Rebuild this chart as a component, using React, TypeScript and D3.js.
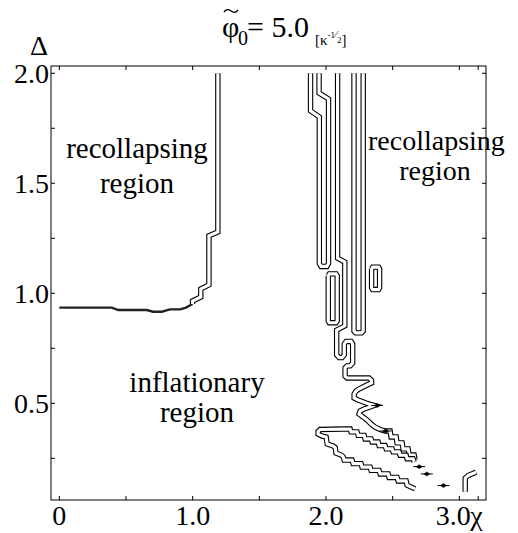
import React from "react";
import * as d3 from "d3";

type P = [number, number];

// ---- axis ticks / labels ----
const xTickValues = [0, 0.5, 1.0, 1.5, 2.0, 2.5, 3.0, Math.PI];
const yTickValues = [0.25, 0.5, 0.75, 1.0, 1.25, 1.5, 1.75, 2.0];
const xLabelValues = [0, 1.0, 2.0, 3.0];
const xLabelTexts = ["0", "1.0", "2.0", "3.0"];
const yLabelValues = [0.5, 1.0, 1.5, 2.0];
const yLabelTexts = ["0.5", "1.0", "1.5", "2.0"];

// ---- boundary curves (chi, Delta) ----
const leftFlat: P[] = [
  [0.0, 0.935], [0.393, 0.935], [0.443, 0.924], [0.656, 0.924], [0.703, 0.916],
  [0.768, 0.916], [0.83, 0.927], [0.905, 0.927], [0.95, 0.935], [0.999, 0.951],
];
const leftSteps: P[] = [
  [0.999, 0.951], [0.999, 0.965], [1.061, 0.983], [1.061, 1.02], [1.122, 1.038],
  [1.122, 1.261], [1.189, 1.279], [1.189, 2.0],
];
const strandAB: P[] = [
  [1.884, 2.0], [1.884, 1.829], [1.95, 1.802], [1.95, 1.135], [1.963, 1.122],
  [2.006, 1.122], [2.019, 1.135], [2.019, 1.883], [1.948, 1.91], [1.948, 2.0],
];
const strandDE: P[] = [
  [2.21, 2.0], [2.21, 0.828], [2.222, 0.82], [2.267, 0.82], [2.279, 0.828], [2.279, 2.0],
];
const strandC: P[] = [
  [2.087, 2.0], [2.087, 1.16], [2.141, 1.142], [2.141, 0.852], [2.08, 0.833],
  [2.08, 0.72], [2.098, 0.708], [2.121, 0.708], [2.137, 0.72], [2.137, 0.77],
  [2.151, 0.781], [2.188, 0.781], [2.2, 0.77], [2.2, 0.683], [2.181, 0.67],
  [2.158, 0.67], [2.143, 0.661], [2.143, 0.624], [2.158, 0.615], [2.323, 0.615],
  [2.342, 0.604], [2.342, 0.592], [2.308, 0.583], [2.278, 0.574], [2.248, 0.565],
  [2.226, 0.556], [2.211, 0.542], [2.211, 0.524], [2.241, 0.515], [2.271, 0.508],
  [2.301, 0.501], [2.331, 0.495], [2.361, 0.49], [2.331, 0.483], [2.286, 0.474],
  [2.256, 0.465], [2.248, 0.451], [2.278, 0.438], [2.308, 0.424], [2.338, 0.406],
  [2.368, 0.392], [2.406, 0.381], [2.443, 0.374], [2.481, 0.374], [2.488, 0.347],
  [2.526, 0.347], [2.533, 0.32], [2.571, 0.32], [2.578, 0.293], [2.616, 0.293],
  [2.623, 0.265], [2.661, 0.265], [2.668, 0.243],
];
const lowerLoop: P[] = [
  [2.661, 0.234], [2.653, 0.248], [2.608, 0.248], [2.601, 0.264], [2.556, 0.264],
  [2.548, 0.279], [2.503, 0.279], [2.496, 0.293], [2.451, 0.293], [2.443, 0.308],
  [2.398, 0.308], [2.391, 0.324], [2.346, 0.324], [2.338, 0.338], [2.293, 0.338],
  [2.286, 0.354], [2.241, 0.354], [2.233, 0.37], [2.188, 0.37], [2.181, 0.383],
  [2.128, 0.383], [1.956, 0.381], [1.941, 0.372], [1.941, 0.36], [1.971, 0.351],
  [2.001, 0.347], [2.009, 0.315], [2.054, 0.306], [2.069, 0.299], [2.075, 0.274],
  [2.113, 0.265], [2.128, 0.258], [2.136, 0.242], [2.195, 0.242], [2.203, 0.226],
  [2.263, 0.226], [2.27, 0.21], [2.331, 0.21], [2.338, 0.195], [2.398, 0.195],
  [2.406, 0.179], [2.466, 0.179], [2.473, 0.163], [2.533, 0.163], [2.541, 0.147],
  [2.601, 0.147], [2.608, 0.128], [2.668, 0.111],
];
const cornerCurve: P[] = [
  [3.044, 0.098], [3.044, 0.16], [3.066, 0.172], [3.111, 0.183], [3.126, 0.188],
];
const island1: P[] = [
  [2.017, 1.08], [2.025, 1.088], [2.076, 1.088], [2.084, 1.08], [2.084, 0.874],
  [2.076, 0.866], [2.025, 0.866], [2.017, 0.874], [2.017, 1.08],
];
const island2: P[] = [
  [2.342, 1.111], [2.35, 1.119], [2.394, 1.119], [2.402, 1.111], [2.402, 1.025],
  [2.394, 1.017], [2.35, 1.017], [2.342, 1.025], [2.342, 1.111],
];
const dots: P[] = [
  [2.383, 0.49], [2.447, 0.374], [2.699, 0.212], [2.756, 0.179], [2.881, 0.126],
];

const doubleCurves: P[][] = [leftSteps, strandAB, strandDE, strandC, lowerLoop, cornerCurve, island1, island2];

export default function App() {
  const W = 518, H = 533;
  const x = d3.scaleLinear().domain([-0.0625, 3.2]).range([51, 486]);
  const y = d3.scaleLinear().domain([0.0605, 2.033]).range([500, 66]);
  const line = d3.line<P>().x((d) => x(d[0])).y((d) => y(d[1]));
  const [x0, x1] = x.range();
  const [y0, y1] = y.range();
  const font = '"Liberation Serif", "DejaVu Serif", "Times New Roman", Times, serif';
  const tl = 4;

  return (
    <svg width={W} height={H} style={{ position: "absolute", left: 0, top: 0, display: "block", background: "#fff", fontFamily: font }}>
      <rect x={0} y={0} width={W} height={H} fill="#fff" />
      {/* frame */}
      <rect x={x0} y={y1} width={x1 - x0} height={y0 - y1} fill="none" stroke="#000" strokeWidth={1} />
      {xTickValues.map((v, i) => (
        <g key={"xt" + i} stroke="#000" strokeWidth={1}>
          <line x1={x(v)} x2={x(v)} y1={y0} y2={y0 - tl} />
          <line x1={x(v)} x2={x(v)} y1={y1} y2={y1 + tl} />
        </g>
      ))}
      {yTickValues.map((v, i) => (
        <g key={"yt" + i} stroke="#000" strokeWidth={1}>
          <line x1={x0} x2={x0 + tl} y1={y(v)} y2={y(v)} />
          <line x1={x1} x2={x1 - tl} y1={y(v)} y2={y(v)} />
        </g>
      ))}
      {xLabelValues.map((v, i) => (
        <text key={"xl" + i} x={x(v) - (i === 3 ? 6 : 0)} y={525} fontSize={28} textAnchor="middle" style={{ fontFamily: font }}>
          {xLabelTexts[i]}
        </text>
      ))}
      <text x={x(3.0) + 11} y={525} fontSize={28} style={{ fontFamily: font }}>χ</text>
      {yLabelValues.map((v, i) => (
        <text key={"yl" + i} x={49} y={y(v)} dy="0.35em" fontSize={28} textAnchor="end" style={{ fontFamily: font }}>
          {yLabelTexts[i]}
        </text>
      ))}
      <text x={39} y={55} fontSize={28} textAnchor="middle" style={{ fontFamily: font }}>Δ</text>

      {/* title */}
      <text x={222} y={37} fontSize={30} style={{ fontFamily: font }}>φ</text>
      <path d="M224,12 q3,-4 7,-1 t7,-1" fill="none" stroke="#000" strokeWidth={1.3} />
      <text x={238} y={45} fontSize={20} style={{ fontFamily: font }}>0</text>
      <text x={247} y={37} fontSize={30} style={{ fontFamily: font }}>= 5.0</text>
      <text x={315} y={45} fontSize={15} style={{ fontFamily: font }}>
        [κ<tspan fontSize={9} dy={-7}>-1</tspan><tspan fontSize={11}>⁄</tspan><tspan fontSize={9} dy={5}>2</tspan><tspan dy={2}>]</tspan>
      </text>

      {/* region labels */}
      <text x={137} y={158} fontSize={29} textAnchor="middle" style={{ fontFamily: font }}>recollapsing</text>
      <text x={137} y={193} fontSize={29} textAnchor="middle" style={{ fontFamily: font }}>region</text>
      <text x={368} y={150} fontSize={28} style={{ fontFamily: font }}>recollapsing</text>
      <text x={435} y={180} fontSize={28} textAnchor="middle" style={{ fontFamily: font }}>region</text>
      <text x={197} y={392} fontSize={29} textAnchor="middle" style={{ fontFamily: font }}>inflationary</text>
      <text x={197} y={422} fontSize={29} textAnchor="middle" style={{ fontFamily: font }}>region</text>

      {/* curves */}
      <path d={line(leftFlat) || ""} fill="none" stroke="#222" strokeWidth={2.4} />
      {doubleCurves.map((c, i) => (
        <g key={"c" + i}>
          <path d={line(c) || ""} fill="none" stroke="#000" strokeWidth={5.4} strokeLinejoin="miter" />
          <path d={line(c) || ""} fill="none" stroke="#fff" strokeWidth={3.2} strokeLinejoin="miter" />
        </g>
      ))}
      {dots.map((d, i) => (
        <g key={"d" + i} stroke="#000">
          <line x1={x(d[0]) - 6} x2={x(d[0]) + 6} y1={y(d[1])} y2={y(d[1])} strokeWidth={1} />
          <path d={`M${x(d[0]) - 3},${y(d[1])}L${x(d[0])},${y(d[1]) - 2}L${x(d[0]) + 3},${y(d[1])}L${x(d[0])},${y(d[1]) + 2}Z`} fill="#000" strokeWidth={0.5} />
        </g>
      ))}
    </svg>
  );
}
